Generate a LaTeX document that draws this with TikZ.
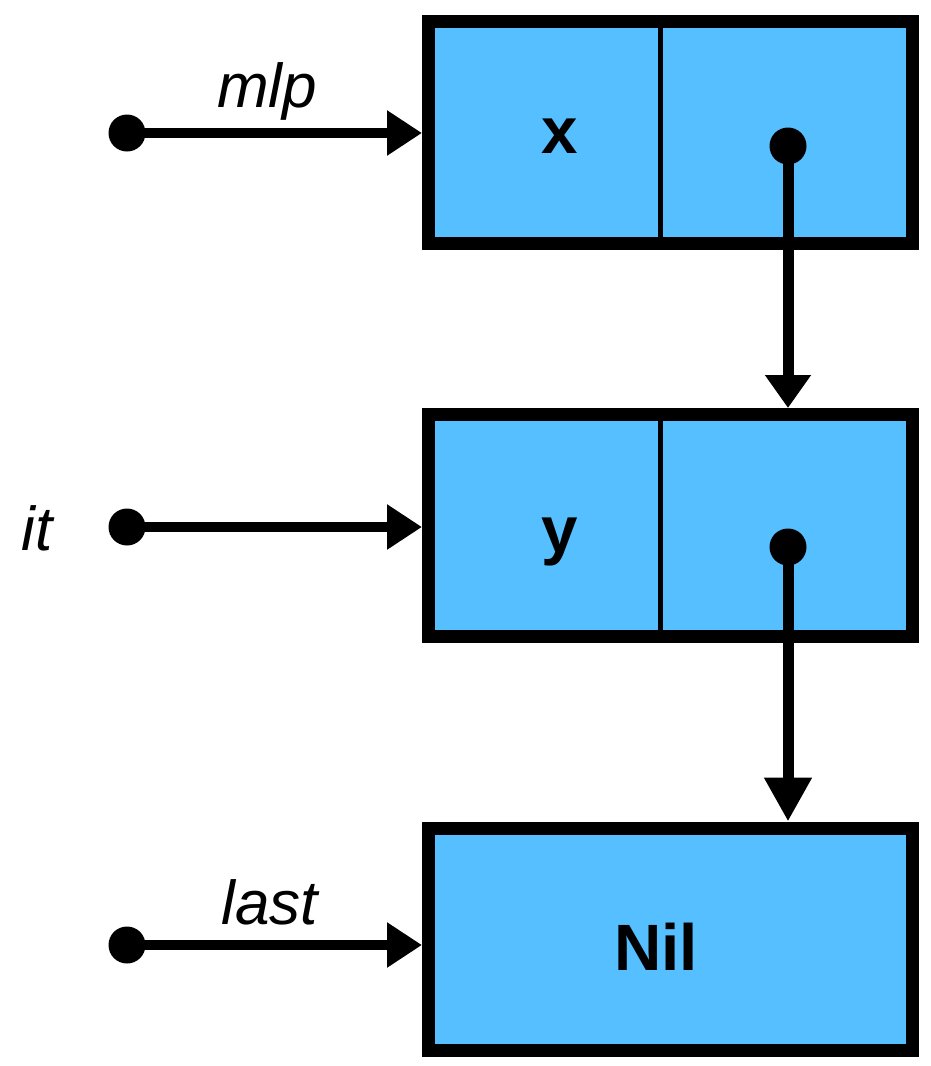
\documentclass[tikz,border=0pt]{standalone}
\usepackage{fontspec}
\setmainfont{Liberation Sans}
\usetikzlibrary{arrows.meta}
\definecolor{cellblue}{RGB}{85,191,255}
\tikzset{
  cell/.style={draw=black, fill=cellblue, line width=13pt, inner sep=0pt,
    minimum width=484pt, minimum height=222pt},
  divider/.style={line width=5pt},
  dotnode/.style={circle, fill=black, inner sep=0pt, minimum size=37pt},
  ptr/.style={line width=10.5pt, -{Triangle[length=35pt,width=43pt]}},
  lbl/.style={font=\fontsize{62}{62}\selectfont\itshape, inner sep=0pt, anchor=base},
  val/.style={font=\fontsize{65.5}{65.5}\selectfont\bfseries, inner sep=0pt, anchor=base}
}
\begin{document}
\begin{tikzpicture}[x=1pt,y=-1pt]
\useasboundingbox (0,0) rectangle (930,1066);
% boxes
\node[cell] (b1) at (670.5,132.5) {};
\node[cell] (b2) at (670.5,525.5) {};
\node[cell] (b3) at (670.5,939) {};
\draw[divider] (660,28) -- (660,237);
\draw[divider] (660,421) -- (660,630);
\node[val] (vx) at (560,153) {x};
\node[val] (vy) at (560,552) {y};
\node[val] (vnil) at (656,970) {Nil};
% pointer dots inside cells
\node[dotnode] (p1) at (788,146) {};
\node[dotnode] (p2) at (788,547) {};
\draw[line width=11pt, -{Triangle[length=33pt,width=44pt]}] (p1.center) -- (p1 |- b2.north);
\draw[line width=11pt, -{Triangle[length=44pt,width=45pt]}] (p2.center) -- (p2 |- b3.north);
% left pointers
\node[dotnode] (d1) at (127,133) {};
\node[dotnode] (d2) at (127,527) {};
\node[dotnode] (d3) at (127,945) {};
\draw[ptr] (d1.center) -- (d1 -| b1.west);
\draw[ptr] (d2.center) -- (d2 -| b2.west);
\draw[ptr] (d3.center) -- (d3 -| b3.west);
% labels
\node[lbl] (lmlp) at (267,107) {mlp};
\node[lbl] (lit) at (37,550) {it};
\node[lbl] (llast) at (270,924) {last};
\end{tikzpicture}
\end{document}
